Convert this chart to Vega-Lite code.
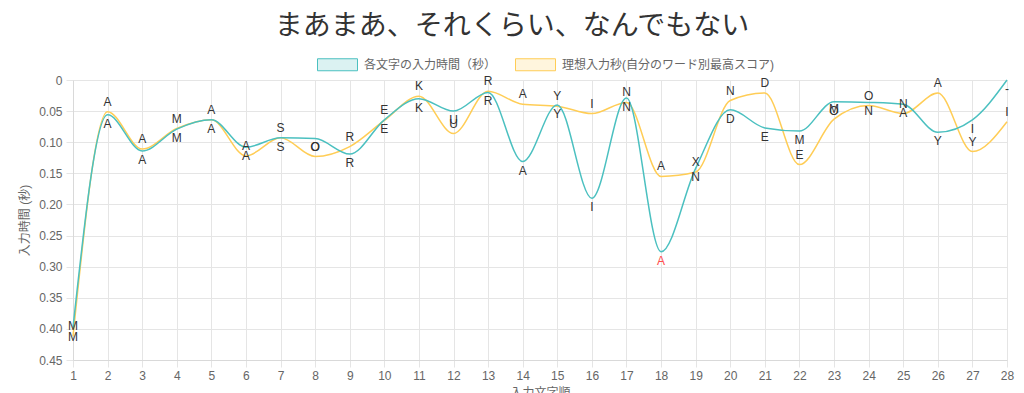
{
  "$schema": "https://vega.github.io/schema/vega-lite/v6.json",
  "width": 934,
  "height": 280,
  "autosize": {"type": "none"},
  "padding": {"left": 73, "top": 80, "right": 17, "bottom": 33},
  "background": "white",
  "config": {"font": "Liberation Sans, Noto Sans CJK JP, sans-serif", "view": {"stroke": null}},
  "title": {"text": "まあまあ、それくらい、なんでもない", "font": "Noto Sans CJK JP", "fontSize": 28, "fontWeight": "normal", "color": "#333333", "anchor": "middle", "dx": -28, "offset": 3},
  "data": {"values": [
    {"n": 1, "series": "各文字の入力時間（秒）", "v": 0.398, "ch": "M", "miss": 0},
    {"n": 2, "series": "各文字の入力時間（秒）", "v": 0.056, "ch": "A", "miss": 0},
    {"n": 3, "series": "各文字の入力時間（秒）", "v": 0.114, "ch": "A", "miss": 0},
    {"n": 4, "series": "各文字の入力時間（秒）", "v": 0.079, "ch": "M", "miss": 0},
    {"n": 5, "series": "各文字の入力時間（秒）", "v": 0.064, "ch": "A", "miss": 0},
    {"n": 6, "series": "各文字の入力時間（秒）", "v": 0.108, "ch": "A", "miss": 0},
    {"n": 7, "series": "各文字の入力時間（秒）", "v": 0.093, "ch": "S", "miss": 0},
    {"n": 8, "series": "各文字の入力時間（秒）", "v": 0.094, "ch": "O", "miss": 0},
    {"n": 9, "series": "各文字の入力時間（秒）", "v": 0.119, "ch": "R", "miss": 0},
    {"n": 10, "series": "各文字の入力時間（秒）", "v": 0.064, "ch": "E", "miss": 0},
    {"n": 11, "series": "各文字の入力時間（秒）", "v": 0.030, "ch": "K", "miss": 0},
    {"n": 12, "series": "各文字の入力時間（秒）", "v": 0.050, "ch": "U", "miss": 0},
    {"n": 13, "series": "各文字の入力時間（秒）", "v": 0.020, "ch": "R", "miss": 0},
    {"n": 14, "series": "各文字の入力時間（秒）", "v": 0.131, "ch": "A", "miss": 0},
    {"n": 15, "series": "各文字の入力時間（秒）", "v": 0.040, "ch": "Y", "miss": 0},
    {"n": 16, "series": "各文字の入力時間（秒）", "v": 0.190, "ch": "I", "miss": 0},
    {"n": 17, "series": "各文字の入力時間（秒）", "v": 0.029, "ch": "N", "miss": 0},
    {"n": 18, "series": "各文字の入力時間（秒）", "v": 0.276, "ch": "A", "miss": 1},
    {"n": 19, "series": "各文字の入力時間（秒）", "v": 0.142, "ch": "N", "miss": 0},
    {"n": 20, "series": "各文字の入力時間（秒）", "v": 0.048, "ch": "D", "miss": 0},
    {"n": 21, "series": "各文字の入力時間（秒）", "v": 0.077, "ch": "E", "miss": 0},
    {"n": 22, "series": "各文字の入力時間（秒）", "v": 0.082, "ch": "M", "miss": 0},
    {"n": 23, "series": "各文字の入力時間（秒）", "v": 0.035, "ch": "O", "miss": 0},
    {"n": 24, "series": "各文字の入力時間（秒）", "v": 0.036, "ch": "N", "miss": 0},
    {"n": 25, "series": "各文字の入力時間（秒）", "v": 0.039, "ch": "A", "miss": 0},
    {"n": 26, "series": "各文字の入力時間（秒）", "v": 0.084, "ch": "Y", "miss": 0},
    {"n": 27, "series": "各文字の入力時間（秒）", "v": 0.064, "ch": "I", "miss": 0},
    {"n": 28, "series": "各文字の入力時間（秒）", "v": 0.000, "ch": "-", "miss": 0},
    {"n": 1, "series": "理想入力秒(自分のワード別最高スコア)", "v": 0.412, "ch": "M", "miss": 0},
    {"n": 2, "series": "理想入力秒(自分のワード別最高スコア)", "v": 0.051, "ch": "A", "miss": 0},
    {"n": 3, "series": "理想入力秒(自分のワード別最高スコア)", "v": 0.111, "ch": "A", "miss": 0},
    {"n": 4, "series": "理想入力秒(自分のワード別最高スコア)", "v": 0.078, "ch": "M", "miss": 0},
    {"n": 5, "series": "理想入力秒(自分のワード別最高スコア)", "v": 0.064, "ch": "A", "miss": 0},
    {"n": 6, "series": "理想入力秒(自分のワード別最高スコア)", "v": 0.122, "ch": "A", "miss": 0},
    {"n": 7, "series": "理想入力秒(自分のワード別最高スコア)", "v": 0.093, "ch": "S", "miss": 0},
    {"n": 8, "series": "理想入力秒(自分のワード別最高スコア)", "v": 0.123, "ch": "O", "miss": 0},
    {"n": 9, "series": "理想入力秒(自分のワード別最高スコア)", "v": 0.107, "ch": "R", "miss": 0},
    {"n": 10, "series": "理想入力秒(自分のワード別最高スコア)", "v": 0.065, "ch": "E", "miss": 0},
    {"n": 11, "series": "理想入力秒(自分のワード別最高スコア)", "v": 0.026, "ch": "K", "miss": 0},
    {"n": 12, "series": "理想入力秒(自分のワード別最高スコア)", "v": 0.086, "ch": "U", "miss": 0},
    {"n": 13, "series": "理想入力秒(自分のワード別最高スコア)", "v": 0.018, "ch": "R", "miss": 0},
    {"n": 14, "series": "理想入力秒(自分のワード別最高スコア)", "v": 0.039, "ch": "A", "miss": 0},
    {"n": 15, "series": "理想入力秒(自分のワード別最高スコア)", "v": 0.042, "ch": "Y", "miss": 0},
    {"n": 16, "series": "理想入力秒(自分のワード別最高スコア)", "v": 0.054, "ch": "I", "miss": 0},
    {"n": 17, "series": "理想入力秒(自分のワード別最高スコア)", "v": 0.036, "ch": "N", "miss": 0},
    {"n": 18, "series": "理想入力秒(自分のワード別最高スコア)", "v": 0.155, "ch": "A", "miss": 0},
    {"n": 19, "series": "理想入力秒(自分のワード別最高スコア)", "v": 0.148, "ch": "X", "miss": 0},
    {"n": 20, "series": "理想入力秒(自分のワード別最高スコア)", "v": 0.033, "ch": "N", "miss": 0},
    {"n": 21, "series": "理想入力秒(自分のワード別最高スコア)", "v": 0.021, "ch": "D", "miss": 0},
    {"n": 22, "series": "理想入力秒(自分のワード別最高スコア)", "v": 0.136, "ch": "E", "miss": 0},
    {"n": 23, "series": "理想入力秒(自分のワード別最高スコア)", "v": 0.063, "ch": "M", "miss": 0},
    {"n": 24, "series": "理想入力秒(自分のワード別最高スコア)", "v": 0.041, "ch": "O", "miss": 0},
    {"n": 25, "series": "理想入力秒(自分のワード別最高スコア)", "v": 0.054, "ch": "N", "miss": 0},
    {"n": 26, "series": "理想入力秒(自分のワード別最高スコア)", "v": 0.021, "ch": "A", "miss": 0},
    {"n": 27, "series": "理想入力秒(自分のワード別最高スコア)", "v": 0.115, "ch": "Y", "miss": 0},
    {"n": 28, "series": "理想入力秒(自分のワード別最高スコア)", "v": 0.067, "ch": "I", "miss": 0}
  ]},
  "encoding": {
    "x": {"field": "n", "type": "quantitative",
      "scale": {"domain": [1, 28], "nice": false, "zero": false},
      "axis": {"values": [1,2,3,4,5,6,7,8,9,10,11,12,13,14,15,16,17,18,19,20,21,22,23,24,25,26,27,28],
        "format": "d", "title": "入力文字順", "titleColor": "#666666", "titleFontSize": 12, "titleFontWeight": "normal", "titlePadding": 6,
        "labelColor": "#666666", "labelFontSize": 12, "labelPadding": 3, "tickSize": 7, "tickColor": "#e5e5e5",
        "gridColor": "#e5e5e5", "domainColor": "#d9d9d9", "labelFlush": false}},
    "y": {"field": "v", "type": "quantitative",
      "scale": {"domain": [0, 0.45], "nice": false, "reverse": true},
      "axis": {"values": [0, 0.05, 0.1, 0.15, 0.2, 0.25, 0.3, 0.35, 0.4, 0.45],
        "labelExpr": "datum.value == 0 ? '0' : format(datum.value, '.2f')",
        "title": "入力時間 (秒)", "titleColor": "#666666", "titleFontSize": 12, "titleFontWeight": "normal", "titlePadding": 7,
        "labelColor": "#666666", "labelFontSize": 12, "labelPadding": 4, "tickSize": 7, "tickColor": "#e5e5e5",
        "gridColor": "#e5e5e5", "domainColor": "#d9d9d9", "labelFlush": false}}
  },
  "layer": [
    {
      "transform": [{"filter": "datum.series == '理想入力秒(自分のワード別最高スコア)'"}],
      "mark": {"type": "line", "interpolate": "monotone", "strokeWidth": 1.5},
      "encoding": {"color": {"field": "series", "type": "nominal",
        "scale": {"domain": ["各文字の入力時間（秒）", "理想入力秒(自分のワード別最高スコア)"], "range": ["#4bc0c0", "#ffcd56"]},
        "legend": {"title": null, "orient": "none", "direction": "horizontal", "legendX": 244, "legendY": -36,
          "symbolType": "M-1,-0.3H1V0.3H-1Z", "symbolSize": 1600, "symbolStrokeWidth": 1,
          "labelColor": "#666666", "labelFontSize": 12, "labelLimit": 400, "labelOffset": 6, "columnPadding": 16,
          "encode": {"symbols": {"update": {"fill": {"scale": "color", "field": "value"}, "fillOpacity": {"value": 0.2}, "stroke": {"scale": "color", "field": "value"}, "strokeWidth": {"value": 1}}}}}}}
    },
    {
      "transform": [{"filter": "datum.series == '各文字の入力時間（秒）'"}],
      "mark": {"type": "line", "interpolate": "monotone", "strokeWidth": 1.5},
      "encoding": {"color": {"field": "series", "type": "nominal"}}
    },
    {
      "transform": [{"filter": "datum.series == '理想入力秒(自分のワード別最高スコア)'"}],
      "mark": {"type": "text", "dy": -10, "fontSize": 12, "color": "#333333", "baseline": "middle"},
      "encoding": {"text": {"field": "ch"}}
    },
    {
      "transform": [{"filter": "datum.series == '各文字の入力時間（秒）'"}],
      "mark": {"type": "text", "dy": 9, "fontSize": 12, "baseline": "middle"},
      "encoding": {"text": {"field": "ch"},
        "color": {"condition": {"test": "datum.miss == 1", "value": "#ff4d4d"}, "value": "#333333"}}
    }
  ]
}
